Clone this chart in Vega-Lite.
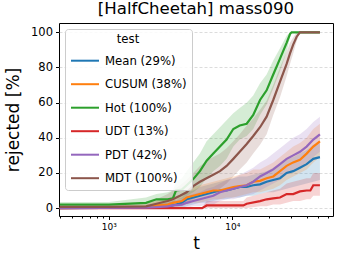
{
  "$schema": "https://vega.github.io/schema/vega-lite/v6.json",
  "width": 274,
  "height": 193,
  "autosize": "none",
  "padding": {"left": 59, "top": 23, "right": 7, "bottom": 44},
  "title": {"text": "[HalfCheetah] mass090", "fontSize": 16.6, "font": "DejaVu Sans", "fontWeight": "normal", "color": "black", "offset": 5, "anchor": "middle"},
  "config": {
    "font": "DejaVu Sans",
    "view": {"stroke": "black", "strokeWidth": 1},
    "axis": {"labelColor": "black", "titleColor": "black", "tickColor": "black", "titleFontWeight": "normal", "domain": false}
  },
  "datasets": {
    "d": [
      {"test": "Mean (29%)", "t": 400, "m": 0, "lo": 0, "hi": 0.5},
      {"test": "Mean (29%)", "t": 2000, "m": 0.3, "lo": 0, "hi": 1},
      {"test": "Mean (29%)", "t": 2430, "m": 0.5, "lo": 0, "hi": 2},
      {"test": "Mean (29%)", "t": 3000, "m": 1, "lo": 0, "hi": 3},
      {"test": "Mean (29%)", "t": 3300, "m": 1.5, "lo": 0, "hi": 4},
      {"test": "Mean (29%)", "t": 3900, "m": 3, "lo": 0, "hi": 6},
      {"test": "Mean (29%)", "t": 4270, "m": 5, "lo": 1, "hi": 9},
      {"test": "Mean (29%)", "t": 4830, "m": 6, "lo": 2, "hi": 10},
      {"test": "Mean (29%)", "t": 5470, "m": 7, "lo": 3, "hi": 12},
      {"test": "Mean (29%)", "t": 6200, "m": 8, "lo": 3, "hi": 13},
      {"test": "Mean (29%)", "t": 7020, "m": 9, "lo": 4, "hi": 14},
      {"test": "Mean (29%)", "t": 7950, "m": 10, "lo": 5, "hi": 15},
      {"test": "Mean (29%)", "t": 9000, "m": 10, "lo": 5, "hi": 16},
      {"test": "Mean (29%)", "t": 10200, "m": 11, "lo": 6, "hi": 17},
      {"test": "Mean (29%)", "t": 11500, "m": 12, "lo": 6, "hi": 18},
      {"test": "Mean (29%)", "t": 13100, "m": 12, "lo": 7, "hi": 18},
      {"test": "Mean (29%)", "t": 14800, "m": 13, "lo": 7, "hi": 19},
      {"test": "Mean (29%)", "t": 16800, "m": 13.5, "lo": 8, "hi": 20},
      {"test": "Mean (29%)", "t": 19000, "m": 15, "lo": 9, "hi": 21},
      {"test": "Mean (29%)", "t": 21500, "m": 16, "lo": 9, "hi": 23},
      {"test": "Mean (29%)", "t": 24400, "m": 17, "lo": 10, "hi": 25},
      {"test": "Mean (29%)", "t": 27600, "m": 20, "lo": 11, "hi": 28},
      {"test": "Mean (29%)", "t": 31200, "m": 21, "lo": 12, "hi": 29},
      {"test": "Mean (29%)", "t": 35400, "m": 23, "lo": 13, "hi": 31},
      {"test": "Mean (29%)", "t": 40100, "m": 25, "lo": 14, "hi": 33},
      {"test": "Mean (29%)", "t": 45400, "m": 28, "lo": 15, "hi": 36},
      {"test": "Mean (29%)", "t": 51400, "m": 29, "lo": 16, "hi": 37},

      {"test": "CUSUM (38%)", "t": 400, "m": 0, "lo": 0, "hi": 0.5},
      {"test": "CUSUM (38%)", "t": 2000, "m": 0.5, "lo": 0, "hi": 2},
      {"test": "CUSUM (38%)", "t": 2430, "m": 1.5, "lo": 0, "hi": 4},
      {"test": "CUSUM (38%)", "t": 3000, "m": 2, "lo": 0, "hi": 5},
      {"test": "CUSUM (38%)", "t": 3300, "m": 3, "lo": 0, "hi": 6},
      {"test": "CUSUM (38%)", "t": 3900, "m": 4, "lo": 1, "hi": 8},
      {"test": "CUSUM (38%)", "t": 4270, "m": 6, "lo": 2, "hi": 10},
      {"test": "CUSUM (38%)", "t": 4830, "m": 7, "lo": 3, "hi": 12},
      {"test": "CUSUM (38%)", "t": 5470, "m": 8, "lo": 3, "hi": 13},
      {"test": "CUSUM (38%)", "t": 6200, "m": 9, "lo": 4, "hi": 14},
      {"test": "CUSUM (38%)", "t": 7020, "m": 10, "lo": 5, "hi": 15},
      {"test": "CUSUM (38%)", "t": 7950, "m": 10, "lo": 5, "hi": 16},
      {"test": "CUSUM (38%)", "t": 9000, "m": 11, "lo": 6, "hi": 17},
      {"test": "CUSUM (38%)", "t": 10200, "m": 12, "lo": 6, "hi": 18},
      {"test": "CUSUM (38%)", "t": 11500, "m": 12.5, "lo": 7, "hi": 19},
      {"test": "CUSUM (38%)", "t": 13100, "m": 13, "lo": 8, "hi": 20},
      {"test": "CUSUM (38%)", "t": 14800, "m": 15, "lo": 9, "hi": 22},
      {"test": "CUSUM (38%)", "t": 16800, "m": 15.5, "lo": 9, "hi": 22},
      {"test": "CUSUM (38%)", "t": 19000, "m": 17, "lo": 10, "hi": 24},
      {"test": "CUSUM (38%)", "t": 21500, "m": 18, "lo": 11, "hi": 26},
      {"test": "CUSUM (38%)", "t": 24400, "m": 21, "lo": 13, "hi": 29},
      {"test": "CUSUM (38%)", "t": 27600, "m": 24, "lo": 16, "hi": 32},
      {"test": "CUSUM (38%)", "t": 31200, "m": 26, "lo": 18, "hi": 35},
      {"test": "CUSUM (38%)", "t": 35400, "m": 27.5, "lo": 20, "hi": 37},
      {"test": "CUSUM (38%)", "t": 40100, "m": 31, "lo": 22, "hi": 40},
      {"test": "CUSUM (38%)", "t": 45400, "m": 35, "lo": 26, "hi": 45},
      {"test": "CUSUM (38%)", "t": 51400, "m": 38, "lo": 29, "hi": 48},

      {"test": "Hot (100%)", "t": 400, "m": 2, "lo": 1, "hi": 3.5},
      {"test": "Hot (100%)", "t": 1000, "m": 2, "lo": 1, "hi": 3.5},
      {"test": "Hot (100%)", "t": 2000, "m": 3, "lo": 1, "hi": 6},
      {"test": "Hot (100%)", "t": 2430, "m": 5, "lo": 2, "hi": 8},
      {"test": "Hot (100%)", "t": 3000, "m": 5, "lo": 2, "hi": 9},
      {"test": "Hot (100%)", "t": 3300, "m": 5.5, "lo": 2, "hi": 10},
      {"test": "Hot (100%)", "t": 3500, "m": 10, "lo": 5, "hi": 15},
      {"test": "Hot (100%)", "t": 3900, "m": 10.5, "lo": 5, "hi": 17},
      {"test": "Hot (100%)", "t": 4270, "m": 13, "lo": 7, "hi": 21},
      {"test": "Hot (100%)", "t": 4830, "m": 16.5, "lo": 9, "hi": 26},
      {"test": "Hot (100%)", "t": 5470, "m": 21, "lo": 12, "hi": 31},
      {"test": "Hot (100%)", "t": 6200, "m": 27, "lo": 17, "hi": 38},
      {"test": "Hot (100%)", "t": 7020, "m": 31, "lo": 21, "hi": 42},
      {"test": "Hot (100%)", "t": 7950, "m": 35, "lo": 24, "hi": 46},
      {"test": "Hot (100%)", "t": 9000, "m": 39, "lo": 28, "hi": 50},
      {"test": "Hot (100%)", "t": 10200, "m": 45, "lo": 35, "hi": 54},
      {"test": "Hot (100%)", "t": 11500, "m": 47, "lo": 39, "hi": 57},
      {"test": "Hot (100%)", "t": 13100, "m": 48, "lo": 41, "hi": 60},
      {"test": "Hot (100%)", "t": 14800, "m": 53, "lo": 45, "hi": 64},
      {"test": "Hot (100%)", "t": 16800, "m": 61.5, "lo": 53, "hi": 71},
      {"test": "Hot (100%)", "t": 19000, "m": 67, "lo": 59, "hi": 76},
      {"test": "Hot (100%)", "t": 21500, "m": 76, "lo": 68, "hi": 84},
      {"test": "Hot (100%)", "t": 24400, "m": 85, "lo": 78, "hi": 91},
      {"test": "Hot (100%)", "t": 27600, "m": 94, "lo": 89, "hi": 98},
      {"test": "Hot (100%)", "t": 29400, "m": 99, "lo": 97, "hi": 100},
      {"test": "Hot (100%)", "t": 30300, "m": 100, "lo": 100, "hi": 100},
      {"test": "Hot (100%)", "t": 51400, "m": 100, "lo": 100, "hi": 100},

      {"test": "UDT (13%)", "t": 400, "m": 0, "lo": 0, "hi": 0},
      {"test": "UDT (13%)", "t": 5700, "m": 0, "lo": 0, "hi": 0.5},
      {"test": "UDT (13%)", "t": 6200, "m": 1.5, "lo": 0, "hi": 4},
      {"test": "UDT (13%)", "t": 12300, "m": 1.5, "lo": 0, "hi": 4},
      {"test": "UDT (13%)", "t": 13100, "m": 2.5, "lo": 0, "hi": 6},
      {"test": "UDT (13%)", "t": 16800, "m": 4, "lo": 1, "hi": 8},
      {"test": "UDT (13%)", "t": 19000, "m": 5, "lo": 1, "hi": 9},
      {"test": "UDT (13%)", "t": 21500, "m": 5.5, "lo": 2, "hi": 10},
      {"test": "UDT (13%)", "t": 24400, "m": 6, "lo": 2, "hi": 11},
      {"test": "UDT (13%)", "t": 27600, "m": 8, "lo": 3, "hi": 14},
      {"test": "UDT (13%)", "t": 31200, "m": 8, "lo": 4, "hi": 15},
      {"test": "UDT (13%)", "t": 35400, "m": 9.5, "lo": 4, "hi": 16},
      {"test": "UDT (13%)", "t": 40100, "m": 10, "lo": 5, "hi": 17},
      {"test": "UDT (13%)", "t": 43000, "m": 10, "lo": 5, "hi": 17},
      {"test": "UDT (13%)", "t": 45400, "m": 13, "lo": 7, "hi": 20},
      {"test": "UDT (13%)", "t": 51400, "m": 13, "lo": 7, "hi": 20},

      {"test": "PDT (42%)", "t": 400, "m": 0, "lo": 0, "hi": 0.3},
      {"test": "PDT (42%)", "t": 2000, "m": 0.3, "lo": 0, "hi": 1},
      {"test": "PDT (42%)", "t": 2430, "m": 0.5, "lo": 0, "hi": 2},
      {"test": "PDT (42%)", "t": 3000, "m": 1, "lo": 0, "hi": 3},
      {"test": "PDT (42%)", "t": 3300, "m": 1.5, "lo": 0, "hi": 4},
      {"test": "PDT (42%)", "t": 3900, "m": 2, "lo": 0, "hi": 5},
      {"test": "PDT (42%)", "t": 4270, "m": 3, "lo": 0, "hi": 7},
      {"test": "PDT (42%)", "t": 4830, "m": 4, "lo": 1, "hi": 8},
      {"test": "PDT (42%)", "t": 5470, "m": 5, "lo": 1, "hi": 9},
      {"test": "PDT (42%)", "t": 6200, "m": 6, "lo": 2, "hi": 11},
      {"test": "PDT (42%)", "t": 7020, "m": 7, "lo": 2, "hi": 12},
      {"test": "PDT (42%)", "t": 7950, "m": 9, "lo": 4, "hi": 14},
      {"test": "PDT (42%)", "t": 9000, "m": 10, "lo": 5, "hi": 16},
      {"test": "PDT (42%)", "t": 10200, "m": 11, "lo": 5, "hi": 17},
      {"test": "PDT (42%)", "t": 11500, "m": 12, "lo": 6, "hi": 19},
      {"test": "PDT (42%)", "t": 13100, "m": 13, "lo": 7, "hi": 21},
      {"test": "PDT (42%)", "t": 14800, "m": 15, "lo": 8, "hi": 23},
      {"test": "PDT (42%)", "t": 16800, "m": 18, "lo": 10, "hi": 26},
      {"test": "PDT (42%)", "t": 19000, "m": 20, "lo": 12, "hi": 28},
      {"test": "PDT (42%)", "t": 21500, "m": 22, "lo": 14, "hi": 31},
      {"test": "PDT (42%)", "t": 24400, "m": 25, "lo": 16, "hi": 34},
      {"test": "PDT (42%)", "t": 27600, "m": 28, "lo": 19, "hi": 37},
      {"test": "PDT (42%)", "t": 31200, "m": 30, "lo": 21, "hi": 40},
      {"test": "PDT (42%)", "t": 35400, "m": 32, "lo": 23, "hi": 42},
      {"test": "PDT (42%)", "t": 40100, "m": 35, "lo": 26, "hi": 45},
      {"test": "PDT (42%)", "t": 45400, "m": 39, "lo": 29, "hi": 49},
      {"test": "PDT (42%)", "t": 51400, "m": 42, "lo": 32, "hi": 52},

      {"test": "MDT (100%)", "t": 400, "m": 0.7, "lo": 0, "hi": 1.5},
      {"test": "MDT (100%)", "t": 1000, "m": 0.7, "lo": 0, "hi": 1.5},
      {"test": "MDT (100%)", "t": 2000, "m": 1, "lo": 0, "hi": 3},
      {"test": "MDT (100%)", "t": 2430, "m": 2.5, "lo": 0, "hi": 5},
      {"test": "MDT (100%)", "t": 3000, "m": 4, "lo": 1, "hi": 8},
      {"test": "MDT (100%)", "t": 3300, "m": 5, "lo": 1, "hi": 10},
      {"test": "MDT (100%)", "t": 3770, "m": 7, "lo": 2, "hi": 13},
      {"test": "MDT (100%)", "t": 4270, "m": 9, "lo": 3, "hi": 16},
      {"test": "MDT (100%)", "t": 4830, "m": 12.5, "lo": 5, "hi": 20},
      {"test": "MDT (100%)", "t": 5470, "m": 15, "lo": 7, "hi": 24},
      {"test": "MDT (100%)", "t": 6590, "m": 18, "lo": 9, "hi": 28},
      {"test": "MDT (100%)", "t": 7950, "m": 21, "lo": 11, "hi": 31},
      {"test": "MDT (100%)", "t": 9000, "m": 24, "lo": 14, "hi": 34},
      {"test": "MDT (100%)", "t": 10200, "m": 28, "lo": 18, "hi": 38},
      {"test": "MDT (100%)", "t": 11500, "m": 32, "lo": 22, "hi": 42},
      {"test": "MDT (100%)", "t": 13100, "m": 36.5, "lo": 26, "hi": 47},
      {"test": "MDT (100%)", "t": 14800, "m": 41, "lo": 31, "hi": 51},
      {"test": "MDT (100%)", "t": 16800, "m": 46, "lo": 36, "hi": 56},
      {"test": "MDT (100%)", "t": 19000, "m": 52, "lo": 42, "hi": 61},
      {"test": "MDT (100%)", "t": 21500, "m": 61.5, "lo": 53, "hi": 70},
      {"test": "MDT (100%)", "t": 24400, "m": 72, "lo": 63, "hi": 80},
      {"test": "MDT (100%)", "t": 27600, "m": 82, "lo": 75, "hi": 89},
      {"test": "MDT (100%)", "t": 29400, "m": 88, "lo": 82, "hi": 94},
      {"test": "MDT (100%)", "t": 31200, "m": 93, "lo": 88, "hi": 97},
      {"test": "MDT (100%)", "t": 33300, "m": 97.5, "lo": 95, "hi": 100},
      {"test": "MDT (100%)", "t": 35400, "m": 100, "lo": 100, "hi": 100},
      {"test": "MDT (100%)", "t": 51400, "m": 100, "lo": 100, "hi": 100}
    ]
  },
  "data": {"name": "d"},
  "encoding": {
    "x": {"field": "t", "type": "quantitative",
          "scale": {"type": "log", "domain": [394, 65600], "nice": false},
          "axis": {"values": [400,500,600,700,800,900,1000,2000,3000,4000,5000,6000,7000,8000,9000,10000,20000,30000,40000,50000,60000],
                   "labelExpr": "datum.value == 1000 ? '10³' : (datum.value == 10000 ? '10⁴' : '')",
                   "labelFontSize": 9, "labelPadding": 3,
                   "tickSize": {"condition": {"test": "datum.value == 1000 || datum.value == 10000", "value": 3.5}, "value": 2},
                   "grid": false, "title": "t", "titleFontSize": 17, "titlePadding": 4}}
  },
  "layer": [
    {
      "mark": {"type": "area", "opacity": 0.2},
      "encoding": {
        "y": {"field": "lo", "type": "quantitative",
              "scale": {"domain": [-4.5, 105.3], "nice": false, "zero": false},
              "axis": {"values": [0,20,40,60,80,100], "title": "rejected [%]", "titleFontSize": 17, "labelFontSize": 11.5, "tickSize": 3.5, "labelPadding": 3, "titlePadding": 8, "grid": true, "gridColor": "#dcdcdc", "gridDash": [3, 2]}},
        "y2": {"field": "hi"},
        "fill": {"field": "test", "type": "nominal", "legend": null,
                  "scale": {"domain": ["MDT (100%)", "PDT (42%)", "UDT (13%)", "Hot (100%)", "CUSUM (38%)", "Mean (29%)"],
                            "range": ["#8c564b", "#9467bd", "#d62728", "#2ca02c", "#ff7f0e", "#1f77b4"]}}
      }
    },
    {
      "mark": {"type": "line", "strokeWidth": 2.2},
      "encoding": {
        "y": {"field": "m", "type": "quantitative",
              "axis": {"values": [0,20,40,60,80,100], "title": "rejected [%]", "titleFontSize": 17, "labelFontSize": 11.5, "tickSize": 3.5, "labelPadding": 3, "titlePadding": 8, "grid": true, "gridColor": "#dcdcdc", "gridDash": [3, 2]}},
        "color": {"field": "test", "type": "nominal",
                  "scale": {"domain": ["Mean (29%)", "CUSUM (38%)", "Hot (100%)", "UDT (13%)", "PDT (42%)", "MDT (100%)"],
                            "range": ["#1f77b4", "#ff7f0e", "#2ca02c", "#d62728", "#9467bd", "#8c564b"]},
                  "legend": {"title": "test", "orient": "top-left", "offset": 6, "padding": 5, "fillColor": "rgba(255,255,255,0.85)", "strokeColor": "#cccccc", "cornerRadius": 3, "titleAnchor": "middle", "labelFontSize": 11.7, "titleFontSize": 11.7, "titleFontWeight": "normal", "labelColor": "black", "titleColor": "black", "symbolType": "stroke", "symbolStrokeWidth": 2, "symbolSize": 784, "rowPadding": 1.5, "labelOffset": 5, "titlePadding": 0}}
      }
    }
  ]
}
